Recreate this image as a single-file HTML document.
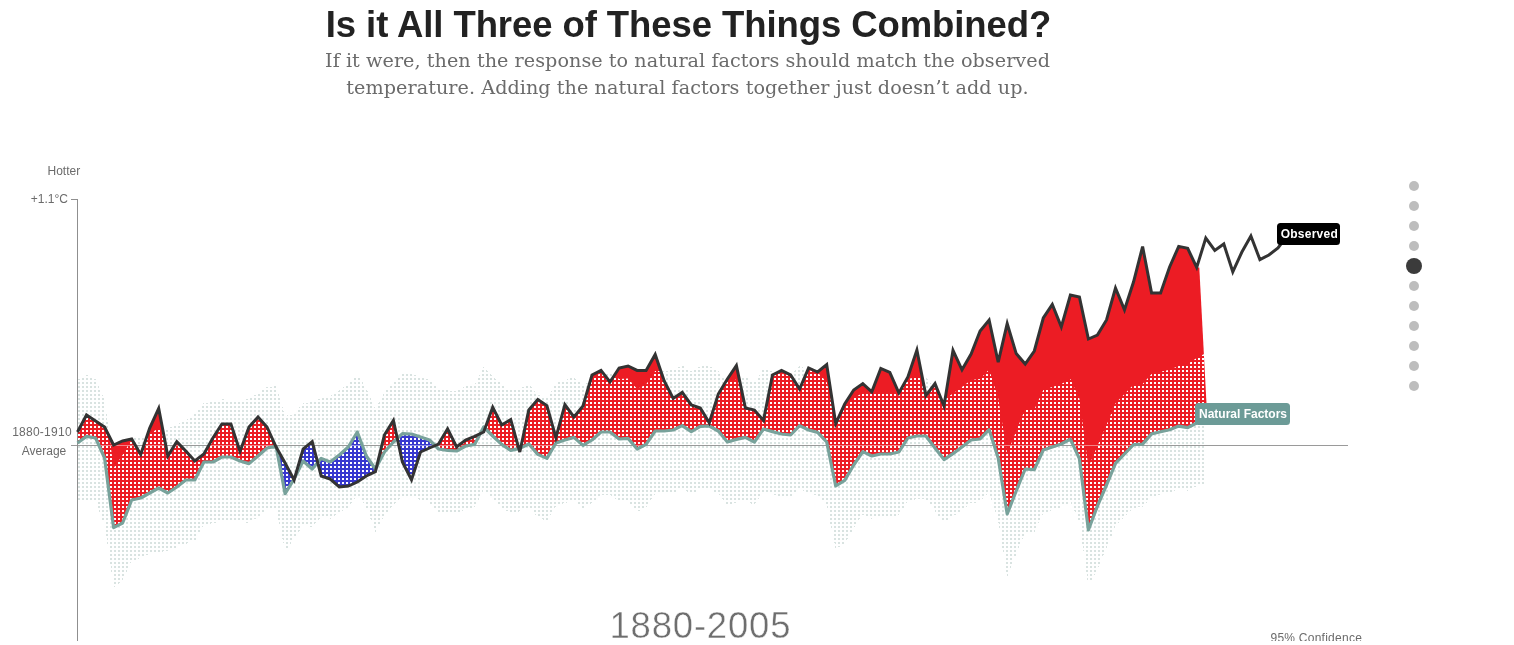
<!DOCTYPE html>
<html lang="en">
<head>
<meta charset="utf-8">
<title>Is it All Three of These Things Combined?</title>
<style>
html,body{margin:0;padding:0;background:#fff;}
body{width:1514px;height:645px;overflow:hidden;position:relative;font-family:"Liberation Sans",sans-serif;}
#head{position:absolute;left:0;top:0;width:1377px;text-align:center;}
h1{margin:0;position:absolute;left:0;width:1377px;top:3.5px;font-size:36.5px;line-height:42px;font-weight:bold;color:#222;letter-spacing:-0.08px;white-space:nowrap;}
p.sub{margin:0;position:absolute;left:0;width:1375px;top:46.8px;font-family:"DejaVu Serif","Liberation Serif",serif;font-size:19.2px;line-height:27.6px;color:#6b6b6b;letter-spacing:0.045px;white-space:nowrap;}
#chartwrap{position:absolute;left:0;top:0;width:1514px;height:641px;overflow:hidden;}
svg{display:block;}
svg text{font-family:"Liberation Sans",sans-serif;}
.ax{font-size:12px;fill:#6b6b6b;}
.lbl{font-size:12px;font-weight:bold;fill:#fff;}
</style>
</head>
<body>
<div id="chartwrap">
<svg width="1514" height="645" viewBox="0 0 1514 645">
<defs>
<pattern id="tdots" patternUnits="userSpaceOnUse" x="0" y="0" width="4" height="4"><rect x="2" y="2" width="2" height="2" fill="#d9e3e1"/></pattern>
<pattern id="wdots" patternUnits="userSpaceOnUse" x="0" y="0" width="4" height="4"><rect x="2" y="2" width="2" height="2" fill="#fff"/></pattern>
<clipPath id="cBelowObs"><polygon points="77.5,432.0 86.5,415.0 95.6,421.0 104.6,427.0 113.6,445.0 122.6,441.0 131.7,439.0 140.7,454.4 149.7,428.0 158.7,408.4 167.8,456.0 176.8,441.6 185.8,451.0 194.8,461.0 203.9,454.0 212.9,438.0 221.9,424.0 230.9,424.0 240.0,451.4 249.0,427.0 258.0,417.0 267.0,427.0 276.1,447.0 285.1,463.0 294.1,480.0 303.1,449.0 312.2,441.6 321.2,476.0 330.2,479.0 339.3,487.0 348.3,486.0 357.3,482.0 366.3,476.0 375.4,471.6 384.4,435.0 393.4,420.4 402.4,462.0 411.5,479.8 420.5,452.0 429.5,448.0 438.5,444.0 447.6,428.8 456.6,447.0 465.6,440.0 474.6,436.4 483.7,432.0 492.7,407.2 501.7,425.0 510.7,419.6 519.8,452.0 528.8,410.0 537.8,399.4 546.9,405.6 555.9,437.6 564.9,404.6 573.9,417.0 583.0,406.0 592.0,375.0 601.0,370.4 610.0,382.0 619.1,368.0 628.1,366.0 637.1,370.4 646.1,370.4 655.2,354.4 664.2,381.0 673.2,398.4 682.2,392.4 691.3,405.0 700.3,408.0 709.3,422.8 718.3,394.0 727.4,379.0 736.4,365.6 745.4,408.0 754.4,410.0 763.5,420.4 772.5,375.0 781.5,370.4 790.6,375.0 799.6,389.0 808.6,368.0 817.6,372.0 826.7,364.6 835.7,423.6 844.7,404.0 853.7,390.0 862.8,383.6 871.8,391.8 880.8,368.4 889.8,372.4 898.9,393.0 907.9,377.0 916.9,350.0 925.9,395.6 935.0,383.6 944.0,406.0 953.0,350.4 962.0,369.8 971.1,354.0 980.1,331.0 989.1,320.0 998.2,362.2 1007.2,323.6 1016.2,353.6 1025.2,364.0 1034.3,351.0 1043.3,318.0 1052.3,304.4 1061.3,326.8 1070.4,295.0 1079.4,297.0 1088.4,339.0 1097.4,335.0 1106.5,320.0 1115.5,288.0 1124.5,309.8 1133.5,282.0 1142.6,246.6 1151.6,293.0 1160.6,293.0 1169.6,267.0 1178.7,246.4 1187.7,248.4 1196.7,267.4 1215.0,267.4 1215.0,700.0 77.5,700.0"/></clipPath>
<clipPath id="cAboveObs"><polygon points="77.5,432.0 86.5,415.0 95.6,421.0 104.6,427.0 113.6,445.0 122.6,441.0 131.7,439.0 140.7,454.4 149.7,428.0 158.7,408.4 167.8,456.0 176.8,441.6 185.8,451.0 194.8,461.0 203.9,454.0 212.9,438.0 221.9,424.0 230.9,424.0 240.0,451.4 249.0,427.0 258.0,417.0 267.0,427.0 276.1,447.0 285.1,463.0 294.1,480.0 303.1,449.0 312.2,441.6 321.2,476.0 330.2,479.0 339.3,487.0 348.3,486.0 357.3,482.0 366.3,476.0 375.4,471.6 384.4,435.0 393.4,420.4 402.4,462.0 411.5,479.8 420.5,452.0 429.5,448.0 438.5,444.0 447.6,428.8 456.6,447.0 465.6,440.0 474.6,436.4 483.7,432.0 492.7,407.2 501.7,425.0 510.7,419.6 519.8,452.0 528.8,410.0 537.8,399.4 546.9,405.6 555.9,437.6 564.9,404.6 573.9,417.0 583.0,406.0 592.0,375.0 601.0,370.4 610.0,382.0 619.1,368.0 628.1,366.0 637.1,370.4 646.1,370.4 655.2,354.4 664.2,381.0 673.2,398.4 682.2,392.4 691.3,405.0 700.3,408.0 709.3,422.8 718.3,394.0 727.4,379.0 736.4,365.6 745.4,408.0 754.4,410.0 763.5,420.4 772.5,375.0 781.5,370.4 790.6,375.0 799.6,389.0 808.6,368.0 817.6,372.0 826.7,364.6 835.7,423.6 844.7,404.0 853.7,390.0 862.8,383.6 871.8,391.8 880.8,368.4 889.8,372.4 898.9,393.0 907.9,377.0 916.9,350.0 925.9,395.6 935.0,383.6 944.0,406.0 953.0,350.4 962.0,369.8 971.1,354.0 980.1,331.0 989.1,320.0 998.2,362.2 1007.2,323.6 1016.2,353.6 1025.2,364.0 1034.3,351.0 1043.3,318.0 1052.3,304.4 1061.3,326.8 1070.4,295.0 1079.4,297.0 1088.4,339.0 1097.4,335.0 1106.5,320.0 1115.5,288.0 1124.5,309.8 1133.5,282.0 1142.6,246.6 1151.6,293.0 1160.6,293.0 1169.6,267.0 1178.7,246.4 1187.7,248.4 1196.7,267.4 1215.0,267.4 1215.0,-50.0 77.5,-50.0"/></clipPath>
<clipPath id="cAboveNat"><polygon points="77.5,443.0 86.5,436.4 95.6,438.0 104.6,458.0 113.6,527.6 122.6,523.0 131.7,500.0 140.7,498.0 149.7,493.0 158.7,488.0 167.8,493.0 176.8,487.0 185.8,480.0 194.8,480.0 203.9,462.0 212.9,462.0 221.9,457.0 230.9,457.0 240.0,461.0 249.0,463.6 258.0,456.0 267.0,448.0 276.1,446.4 285.1,493.6 294.1,479.0 303.1,461.0 312.2,469.0 321.2,458.4 330.2,462.0 339.3,455.0 348.3,447.0 357.3,432.0 366.3,456.0 375.4,469.0 384.4,452.0 393.4,442.0 402.4,433.6 411.5,434.0 420.5,437.0 429.5,440.0 438.5,449.0 447.6,450.4 456.6,451.0 465.6,446.0 474.6,444.4 483.7,427.0 492.7,436.0 501.7,444.4 510.7,450.4 519.8,448.4 528.8,444.0 537.8,454.4 546.9,458.4 555.9,443.0 564.9,440.0 573.9,437.4 583.0,445.4 592.0,440.0 601.0,432.0 610.0,432.0 619.1,439.0 628.1,438.4 637.1,449.0 646.1,444.4 655.2,431.0 664.2,431.0 673.2,430.0 682.2,425.6 691.3,431.6 700.3,426.4 709.3,426.0 718.3,431.0 727.4,442.0 736.4,439.4 745.4,437.4 754.4,442.0 763.5,429.0 772.5,431.6 781.5,434.0 790.6,435.0 799.6,425.6 808.6,430.0 817.6,432.4 826.7,442.0 835.7,486.0 844.7,480.4 853.7,465.0 862.8,451.6 871.8,456.0 880.8,454.0 889.8,454.0 898.9,452.0 907.9,438.0 916.9,436.0 925.9,436.0 935.0,448.0 944.0,459.6 953.0,453.6 962.0,447.0 971.1,440.0 980.1,439.0 989.1,429.6 998.2,458.0 1007.2,514.0 1016.2,491.0 1025.2,469.0 1034.3,469.6 1043.3,450.0 1052.3,447.0 1061.3,444.0 1070.4,439.1 1079.4,458.7 1088.4,530.0 1097.4,506.1 1106.5,485.0 1115.5,463.3 1124.5,454.0 1133.5,444.7 1142.6,444.1 1151.6,433.9 1160.6,431.7 1169.6,429.8 1178.7,426.1 1187.7,427.7 1196.7,423.0 1215.0,421.0 1215.0,-50.0 77.5,-50.0"/></clipPath>
<clipPath id="cBelowNat"><polygon points="77.5,443.0 86.5,436.4 95.6,438.0 104.6,458.0 113.6,527.6 122.6,523.0 131.7,500.0 140.7,498.0 149.7,493.0 158.7,488.0 167.8,493.0 176.8,487.0 185.8,480.0 194.8,480.0 203.9,462.0 212.9,462.0 221.9,457.0 230.9,457.0 240.0,461.0 249.0,463.6 258.0,456.0 267.0,448.0 276.1,446.4 285.1,493.6 294.1,479.0 303.1,461.0 312.2,469.0 321.2,458.4 330.2,462.0 339.3,455.0 348.3,447.0 357.3,432.0 366.3,456.0 375.4,469.0 384.4,452.0 393.4,442.0 402.4,433.6 411.5,434.0 420.5,437.0 429.5,440.0 438.5,449.0 447.6,450.4 456.6,451.0 465.6,446.0 474.6,444.4 483.7,427.0 492.7,436.0 501.7,444.4 510.7,450.4 519.8,448.4 528.8,444.0 537.8,454.4 546.9,458.4 555.9,443.0 564.9,440.0 573.9,437.4 583.0,445.4 592.0,440.0 601.0,432.0 610.0,432.0 619.1,439.0 628.1,438.4 637.1,449.0 646.1,444.4 655.2,431.0 664.2,431.0 673.2,430.0 682.2,425.6 691.3,431.6 700.3,426.4 709.3,426.0 718.3,431.0 727.4,442.0 736.4,439.4 745.4,437.4 754.4,442.0 763.5,429.0 772.5,431.6 781.5,434.0 790.6,435.0 799.6,425.6 808.6,430.0 817.6,432.4 826.7,442.0 835.7,486.0 844.7,480.4 853.7,465.0 862.8,451.6 871.8,456.0 880.8,454.0 889.8,454.0 898.9,452.0 907.9,438.0 916.9,436.0 925.9,436.0 935.0,448.0 944.0,459.6 953.0,453.6 962.0,447.0 971.1,440.0 980.1,439.0 989.1,429.6 998.2,458.0 1007.2,514.0 1016.2,491.0 1025.2,469.0 1034.3,469.6 1043.3,450.0 1052.3,447.0 1061.3,444.0 1070.4,439.1 1079.4,458.7 1088.4,530.0 1097.4,506.1 1106.5,485.0 1115.5,463.3 1124.5,454.0 1133.5,444.7 1142.6,444.1 1151.6,433.9 1160.6,431.7 1169.6,429.8 1178.7,426.1 1187.7,427.7 1196.7,423.0 1215.0,421.0 1215.0,700.0 77.5,700.0"/></clipPath>
<clipPath id="cBand"><polygon points="77.5,380.0 86.5,375.0 95.6,379.0 104.6,400.0 113.6,468.0 122.6,455.0 131.7,439.0 140.7,437.0 149.7,434.0 158.7,428.0 167.8,428.0 176.8,425.0 185.8,420.0 194.8,414.0 203.9,403.0 212.9,402.0 221.9,399.0 230.9,401.0 240.0,400.0 249.0,399.0 258.0,393.0 267.0,387.0 276.1,386.0 285.1,416.0 294.1,414.0 303.1,403.0 312.2,402.0 321.2,398.0 330.2,396.0 339.3,390.0 348.3,384.0 357.3,374.0 366.3,388.0 375.4,409.0 384.4,392.0 393.4,382.0 402.4,373.6 411.5,374.0 420.5,377.0 429.5,380.0 438.5,389.0 447.6,390.4 456.6,391.0 465.6,386.0 474.6,384.4 483.7,367.0 492.7,376.0 501.7,384.4 510.7,390.4 519.8,388.4 528.8,384.0 537.8,394.4 546.9,398.4 555.9,383.0 564.9,380.0 573.9,377.4 583.0,385.4 592.0,380.0 601.0,372.0 610.0,372.0 619.1,379.0 628.1,378.4 637.1,389.0 646.1,384.4 655.2,371.0 664.2,371.0 673.2,370.0 682.2,365.6 691.3,371.6 700.3,366.4 709.3,366.0 718.3,371.0 727.4,382.0 736.4,379.4 745.4,377.4 754.4,382.0 763.5,369.0 772.5,371.6 781.5,374.0 790.6,375.0 799.6,365.6 808.6,370.0 817.6,372.4 826.7,382.0 835.7,422.0 844.7,407.0 853.7,398.0 862.8,393.0 871.8,394.0 880.8,394.0 889.8,394.0 898.9,393.0 907.9,379.0 916.9,377.0 925.9,377.0 935.0,388.0 944.0,399.6 953.0,393.6 962.0,387.0 971.1,380.0 980.1,379.0 989.1,369.6 998.2,398.0 1007.2,454.0 1016.2,431.0 1025.2,409.0 1034.3,409.6 1043.3,390.0 1052.3,387.0 1061.3,384.0 1070.4,379.1 1079.4,398.7 1088.4,466.9 1097.4,446.1 1106.5,425.0 1115.5,403.3 1124.5,394.0 1133.5,384.7 1142.6,384.1 1151.6,373.9 1160.6,371.7 1169.6,369.8 1178.7,366.1 1187.7,364.0 1196.7,358.0 1204.5,353.7 1204.5,483.4 1196.7,486.0 1187.7,490.7 1178.7,489.1 1169.6,492.8 1160.6,494.7 1151.6,496.9 1142.6,507.1 1133.5,507.7 1124.5,517.0 1115.5,526.3 1106.5,548.0 1097.4,569.1 1088.4,586.0 1079.4,521.7 1070.4,502.1 1061.3,507.0 1052.3,510.0 1043.3,513.0 1034.3,532.6 1025.2,532.0 1016.2,554.0 1007.2,577.0 998.2,521.0 989.1,492.6 980.1,502.0 971.1,503.0 962.0,510.0 953.0,516.6 944.0,522.6 935.0,511.0 925.9,499.0 916.9,499.0 907.9,501.0 898.9,515.0 889.8,517.0 880.8,517.0 871.8,519.0 862.8,514.6 853.7,528.0 844.7,543.4 835.7,549.0 826.7,505.0 817.6,495.4 808.6,493.0 799.6,488.6 790.6,498.0 781.5,497.0 772.5,494.6 763.5,492.0 754.4,505.0 745.4,500.4 736.4,502.4 727.4,505.0 718.3,494.0 709.3,489.0 700.3,489.4 691.3,494.6 682.2,488.6 673.2,493.0 664.2,494.0 655.2,494.0 646.1,507.4 637.1,512.0 628.1,501.4 619.1,502.0 610.0,495.0 601.0,495.0 592.0,503.0 583.0,508.4 573.9,500.4 564.9,503.0 555.9,506.0 546.9,521.4 537.8,517.4 528.8,507.0 519.8,511.4 510.7,513.4 501.7,507.4 492.7,499.0 483.7,490.0 474.6,507.4 465.6,509.0 456.6,514.0 447.6,513.4 438.5,512.0 429.5,503.0 420.5,500.0 411.5,497.0 402.4,496.6 393.4,505.0 384.4,515.0 375.4,532.0 366.3,507.0 357.3,495.0 348.3,508.0 339.3,512.0 330.2,519.0 321.2,517.0 312.2,527.0 303.1,525.0 294.1,539.0 285.1,551.0 276.1,508.0 267.0,509.0 258.0,517.0 249.0,523.0 240.0,522.0 230.9,522.0 221.9,522.0 212.9,523.0 203.9,525.0 194.8,541.0 185.8,544.0 176.8,547.0 167.8,551.0 158.7,552.0 149.7,554.0 140.7,558.0 131.7,561.0 122.6,580.0 113.6,588.0 104.6,525.0 95.6,502.0 86.5,500.0 77.5,500.0"/></clipPath>
<clipPath id="cOver"><rect x="275.5" y="400" width="43" height="120"/></clipPath>
<clipPath id="cRight"><polygon points="0,0 1185.1,0 1219.3,645 0,645"/></clipPath>
</defs>
<!-- zero line -->
<rect x="71" y="445" width="1277" height="1" fill="#9a9a9a"/>
<!-- confidence band -->
<polygon points="77.5,380.0 86.5,375.0 95.6,379.0 104.6,400.0 113.6,468.0 122.6,455.0 131.7,439.0 140.7,437.0 149.7,434.0 158.7,428.0 167.8,428.0 176.8,425.0 185.8,420.0 194.8,414.0 203.9,403.0 212.9,402.0 221.9,399.0 230.9,401.0 240.0,400.0 249.0,399.0 258.0,393.0 267.0,387.0 276.1,386.0 285.1,416.0 294.1,414.0 303.1,403.0 312.2,402.0 321.2,398.0 330.2,396.0 339.3,390.0 348.3,384.0 357.3,374.0 366.3,388.0 375.4,409.0 384.4,392.0 393.4,382.0 402.4,373.6 411.5,374.0 420.5,377.0 429.5,380.0 438.5,389.0 447.6,390.4 456.6,391.0 465.6,386.0 474.6,384.4 483.7,367.0 492.7,376.0 501.7,384.4 510.7,390.4 519.8,388.4 528.8,384.0 537.8,394.4 546.9,398.4 555.9,383.0 564.9,380.0 573.9,377.4 583.0,385.4 592.0,380.0 601.0,372.0 610.0,372.0 619.1,379.0 628.1,378.4 637.1,389.0 646.1,384.4 655.2,371.0 664.2,371.0 673.2,370.0 682.2,365.6 691.3,371.6 700.3,366.4 709.3,366.0 718.3,371.0 727.4,382.0 736.4,379.4 745.4,377.4 754.4,382.0 763.5,369.0 772.5,371.6 781.5,374.0 790.6,375.0 799.6,365.6 808.6,370.0 817.6,372.4 826.7,382.0 835.7,422.0 844.7,407.0 853.7,398.0 862.8,393.0 871.8,394.0 880.8,394.0 889.8,394.0 898.9,393.0 907.9,379.0 916.9,377.0 925.9,377.0 935.0,388.0 944.0,399.6 953.0,393.6 962.0,387.0 971.1,380.0 980.1,379.0 989.1,369.6 998.2,398.0 1007.2,454.0 1016.2,431.0 1025.2,409.0 1034.3,409.6 1043.3,390.0 1052.3,387.0 1061.3,384.0 1070.4,379.1 1079.4,398.7 1088.4,466.9 1097.4,446.1 1106.5,425.0 1115.5,403.3 1124.5,394.0 1133.5,384.7 1142.6,384.1 1151.6,373.9 1160.6,371.7 1169.6,369.8 1178.7,366.1 1187.7,364.0 1196.7,358.0 1204.5,353.7 1204.5,483.4 1196.7,486.0 1187.7,490.7 1178.7,489.1 1169.6,492.8 1160.6,494.7 1151.6,496.9 1142.6,507.1 1133.5,507.7 1124.5,517.0 1115.5,526.3 1106.5,548.0 1097.4,569.1 1088.4,586.0 1079.4,521.7 1070.4,502.1 1061.3,507.0 1052.3,510.0 1043.3,513.0 1034.3,532.6 1025.2,532.0 1016.2,554.0 1007.2,577.0 998.2,521.0 989.1,492.6 980.1,502.0 971.1,503.0 962.0,510.0 953.0,516.6 944.0,522.6 935.0,511.0 925.9,499.0 916.9,499.0 907.9,501.0 898.9,515.0 889.8,517.0 880.8,517.0 871.8,519.0 862.8,514.6 853.7,528.0 844.7,543.4 835.7,549.0 826.7,505.0 817.6,495.4 808.6,493.0 799.6,488.6 790.6,498.0 781.5,497.0 772.5,494.6 763.5,492.0 754.4,505.0 745.4,500.4 736.4,502.4 727.4,505.0 718.3,494.0 709.3,489.0 700.3,489.4 691.3,494.6 682.2,488.6 673.2,493.0 664.2,494.0 655.2,494.0 646.1,507.4 637.1,512.0 628.1,501.4 619.1,502.0 610.0,495.0 601.0,495.0 592.0,503.0 583.0,508.4 573.9,500.4 564.9,503.0 555.9,506.0 546.9,521.4 537.8,517.4 528.8,507.0 519.8,511.4 510.7,513.4 501.7,507.4 492.7,499.0 483.7,490.0 474.6,507.4 465.6,509.0 456.6,514.0 447.6,513.4 438.5,512.0 429.5,503.0 420.5,500.0 411.5,497.0 402.4,496.6 393.4,505.0 384.4,515.0 375.4,532.0 366.3,507.0 357.3,495.0 348.3,508.0 339.3,512.0 330.2,519.0 321.2,517.0 312.2,527.0 303.1,525.0 294.1,539.0 285.1,551.0 276.1,508.0 267.0,509.0 258.0,517.0 249.0,523.0 240.0,522.0 230.9,522.0 221.9,522.0 212.9,523.0 203.9,525.0 194.8,541.0 185.8,544.0 176.8,547.0 167.8,551.0 158.7,552.0 149.7,554.0 140.7,558.0 131.7,561.0 122.6,580.0 113.6,588.0 104.6,525.0 95.6,502.0 86.5,500.0 77.5,500.0" fill="url(#tdots)" shape-rendering="crispEdges"/>
<!-- fills -->
<g clip-path="url(#cRight)">
<g clip-path="url(#cBelowObs)"><polygon points="77.5,443.0 86.5,436.4 95.6,438.0 104.6,458.0 113.6,527.6 122.6,523.0 131.7,500.0 140.7,498.0 149.7,493.0 158.7,488.0 167.8,493.0 176.8,487.0 185.8,480.0 194.8,480.0 203.9,462.0 212.9,462.0 221.9,457.0 230.9,457.0 240.0,461.0 249.0,463.6 258.0,456.0 267.0,448.0 276.1,446.4 285.1,493.6 294.1,479.0 303.1,461.0 312.2,469.0 321.2,458.4 330.2,462.0 339.3,455.0 348.3,447.0 357.3,432.0 366.3,456.0 375.4,469.0 384.4,452.0 393.4,442.0 402.4,433.6 411.5,434.0 420.5,437.0 429.5,440.0 438.5,449.0 447.6,450.4 456.6,451.0 465.6,446.0 474.6,444.4 483.7,427.0 492.7,436.0 501.7,444.4 510.7,450.4 519.8,448.4 528.8,444.0 537.8,454.4 546.9,458.4 555.9,443.0 564.9,440.0 573.9,437.4 583.0,445.4 592.0,440.0 601.0,432.0 610.0,432.0 619.1,439.0 628.1,438.4 637.1,449.0 646.1,444.4 655.2,431.0 664.2,431.0 673.2,430.0 682.2,425.6 691.3,431.6 700.3,426.4 709.3,426.0 718.3,431.0 727.4,442.0 736.4,439.4 745.4,437.4 754.4,442.0 763.5,429.0 772.5,431.6 781.5,434.0 790.6,435.0 799.6,425.6 808.6,430.0 817.6,432.4 826.7,442.0 835.7,486.0 844.7,480.4 853.7,465.0 862.8,451.6 871.8,456.0 880.8,454.0 889.8,454.0 898.9,452.0 907.9,438.0 916.9,436.0 925.9,436.0 935.0,448.0 944.0,459.6 953.0,453.6 962.0,447.0 971.1,440.0 980.1,439.0 989.1,429.6 998.2,458.0 1007.2,514.0 1016.2,491.0 1025.2,469.0 1034.3,469.6 1043.3,450.0 1052.3,447.0 1061.3,444.0 1070.4,439.1 1079.4,458.7 1088.4,530.0 1097.4,506.1 1106.5,485.0 1115.5,463.3 1124.5,454.0 1133.5,444.7 1142.6,444.1 1151.6,433.9 1160.6,431.7 1169.6,429.8 1178.7,426.1 1187.7,427.7 1196.7,423.0 1215.0,421.0 1215.0,-50.0 77.5,-50.0" fill="#ec1c24"/></g>
<g clip-path="url(#cAboveObs)"><polygon points="77.5,443.0 86.5,436.4 95.6,438.0 104.6,458.0 113.6,527.6 122.6,523.0 131.7,500.0 140.7,498.0 149.7,493.0 158.7,488.0 167.8,493.0 176.8,487.0 185.8,480.0 194.8,480.0 203.9,462.0 212.9,462.0 221.9,457.0 230.9,457.0 240.0,461.0 249.0,463.6 258.0,456.0 267.0,448.0 276.1,446.4 285.1,493.6 294.1,479.0 303.1,461.0 312.2,469.0 321.2,458.4 330.2,462.0 339.3,455.0 348.3,447.0 357.3,432.0 366.3,456.0 375.4,469.0 384.4,452.0 393.4,442.0 402.4,433.6 411.5,434.0 420.5,437.0 429.5,440.0 438.5,449.0 447.6,450.4 456.6,451.0 465.6,446.0 474.6,444.4 483.7,427.0 492.7,436.0 501.7,444.4 510.7,450.4 519.8,448.4 528.8,444.0 537.8,454.4 546.9,458.4 555.9,443.0 564.9,440.0 573.9,437.4 583.0,445.4 592.0,440.0 601.0,432.0 610.0,432.0 619.1,439.0 628.1,438.4 637.1,449.0 646.1,444.4 655.2,431.0 664.2,431.0 673.2,430.0 682.2,425.6 691.3,431.6 700.3,426.4 709.3,426.0 718.3,431.0 727.4,442.0 736.4,439.4 745.4,437.4 754.4,442.0 763.5,429.0 772.5,431.6 781.5,434.0 790.6,435.0 799.6,425.6 808.6,430.0 817.6,432.4 826.7,442.0 835.7,486.0 844.7,480.4 853.7,465.0 862.8,451.6 871.8,456.0 880.8,454.0 889.8,454.0 898.9,452.0 907.9,438.0 916.9,436.0 925.9,436.0 935.0,448.0 944.0,459.6 953.0,453.6 962.0,447.0 971.1,440.0 980.1,439.0 989.1,429.6 998.2,458.0 1007.2,514.0 1016.2,491.0 1025.2,469.0 1034.3,469.6 1043.3,450.0 1052.3,447.0 1061.3,444.0 1070.4,439.1 1079.4,458.7 1088.4,530.0 1097.4,506.1 1106.5,485.0 1115.5,463.3 1124.5,454.0 1133.5,444.7 1142.6,444.1 1151.6,433.9 1160.6,431.7 1169.6,429.8 1178.7,426.1 1187.7,427.7 1196.7,423.0 1215.0,421.0 1215.0,700.0 77.5,700.0" fill="#3838cf"/></g>
<g clip-path="url(#cOver)"><g clip-path="url(#cBelowObs)"><polygon points="77.5,443.0 86.5,436.4 95.6,438.0 104.6,458.0 113.6,527.6 122.6,523.0 131.7,500.0 140.7,498.0 149.7,493.0 158.7,488.0 167.8,493.0 176.8,487.0 185.8,480.0 194.8,480.0 203.9,462.0 212.9,462.0 221.9,457.0 230.9,457.0 240.0,461.0 249.0,463.6 258.0,456.0 267.0,448.0 276.1,446.4 285.1,493.6 294.1,479.0 303.1,461.0 312.2,469.0 321.2,458.4 330.2,462.0 339.3,455.0 348.3,447.0 357.3,432.0 366.3,456.0 375.4,469.0 384.4,452.0 393.4,442.0 402.4,433.6 411.5,434.0 420.5,437.0 429.5,440.0 438.5,449.0 447.6,450.4 456.6,451.0 465.6,446.0 474.6,444.4 483.7,427.0 492.7,436.0 501.7,444.4 510.7,450.4 519.8,448.4 528.8,444.0 537.8,454.4 546.9,458.4 555.9,443.0 564.9,440.0 573.9,437.4 583.0,445.4 592.0,440.0 601.0,432.0 610.0,432.0 619.1,439.0 628.1,438.4 637.1,449.0 646.1,444.4 655.2,431.0 664.2,431.0 673.2,430.0 682.2,425.6 691.3,431.6 700.3,426.4 709.3,426.0 718.3,431.0 727.4,442.0 736.4,439.4 745.4,437.4 754.4,442.0 763.5,429.0 772.5,431.6 781.5,434.0 790.6,435.0 799.6,425.6 808.6,430.0 817.6,432.4 826.7,442.0 835.7,486.0 844.7,480.4 853.7,465.0 862.8,451.6 871.8,456.0 880.8,454.0 889.8,454.0 898.9,452.0 907.9,438.0 916.9,436.0 925.9,436.0 935.0,448.0 944.0,459.6 953.0,453.6 962.0,447.0 971.1,440.0 980.1,439.0 989.1,429.6 998.2,458.0 1007.2,514.0 1016.2,491.0 1025.2,469.0 1034.3,469.6 1043.3,450.0 1052.3,447.0 1061.3,444.0 1070.4,439.1 1079.4,458.7 1088.4,530.0 1097.4,506.1 1106.5,485.0 1115.5,463.3 1124.5,454.0 1133.5,444.7 1142.6,444.1 1151.6,433.9 1160.6,431.7 1169.6,429.8 1178.7,426.1 1187.7,427.7 1196.7,423.0 1215.0,421.0 1215.0,-50.0 77.5,-50.0" fill="#3838cf"/></g></g>
<g clip-path="url(#cBand)">
<g clip-path="url(#cBelowObs)"><polygon points="77.5,443.0 86.5,436.4 95.6,438.0 104.6,458.0 113.6,527.6 122.6,523.0 131.7,500.0 140.7,498.0 149.7,493.0 158.7,488.0 167.8,493.0 176.8,487.0 185.8,480.0 194.8,480.0 203.9,462.0 212.9,462.0 221.9,457.0 230.9,457.0 240.0,461.0 249.0,463.6 258.0,456.0 267.0,448.0 276.1,446.4 285.1,493.6 294.1,479.0 303.1,461.0 312.2,469.0 321.2,458.4 330.2,462.0 339.3,455.0 348.3,447.0 357.3,432.0 366.3,456.0 375.4,469.0 384.4,452.0 393.4,442.0 402.4,433.6 411.5,434.0 420.5,437.0 429.5,440.0 438.5,449.0 447.6,450.4 456.6,451.0 465.6,446.0 474.6,444.4 483.7,427.0 492.7,436.0 501.7,444.4 510.7,450.4 519.8,448.4 528.8,444.0 537.8,454.4 546.9,458.4 555.9,443.0 564.9,440.0 573.9,437.4 583.0,445.4 592.0,440.0 601.0,432.0 610.0,432.0 619.1,439.0 628.1,438.4 637.1,449.0 646.1,444.4 655.2,431.0 664.2,431.0 673.2,430.0 682.2,425.6 691.3,431.6 700.3,426.4 709.3,426.0 718.3,431.0 727.4,442.0 736.4,439.4 745.4,437.4 754.4,442.0 763.5,429.0 772.5,431.6 781.5,434.0 790.6,435.0 799.6,425.6 808.6,430.0 817.6,432.4 826.7,442.0 835.7,486.0 844.7,480.4 853.7,465.0 862.8,451.6 871.8,456.0 880.8,454.0 889.8,454.0 898.9,452.0 907.9,438.0 916.9,436.0 925.9,436.0 935.0,448.0 944.0,459.6 953.0,453.6 962.0,447.0 971.1,440.0 980.1,439.0 989.1,429.6 998.2,458.0 1007.2,514.0 1016.2,491.0 1025.2,469.0 1034.3,469.6 1043.3,450.0 1052.3,447.0 1061.3,444.0 1070.4,439.1 1079.4,458.7 1088.4,530.0 1097.4,506.1 1106.5,485.0 1115.5,463.3 1124.5,454.0 1133.5,444.7 1142.6,444.1 1151.6,433.9 1160.6,431.7 1169.6,429.8 1178.7,426.1 1187.7,427.7 1196.7,423.0 1215.0,421.0 1215.0,-50.0 77.5,-50.0" fill="url(#wdots)"/></g>
<g clip-path="url(#cAboveObs)"><polygon points="77.5,443.0 86.5,436.4 95.6,438.0 104.6,458.0 113.6,527.6 122.6,523.0 131.7,500.0 140.7,498.0 149.7,493.0 158.7,488.0 167.8,493.0 176.8,487.0 185.8,480.0 194.8,480.0 203.9,462.0 212.9,462.0 221.9,457.0 230.9,457.0 240.0,461.0 249.0,463.6 258.0,456.0 267.0,448.0 276.1,446.4 285.1,493.6 294.1,479.0 303.1,461.0 312.2,469.0 321.2,458.4 330.2,462.0 339.3,455.0 348.3,447.0 357.3,432.0 366.3,456.0 375.4,469.0 384.4,452.0 393.4,442.0 402.4,433.6 411.5,434.0 420.5,437.0 429.5,440.0 438.5,449.0 447.6,450.4 456.6,451.0 465.6,446.0 474.6,444.4 483.7,427.0 492.7,436.0 501.7,444.4 510.7,450.4 519.8,448.4 528.8,444.0 537.8,454.4 546.9,458.4 555.9,443.0 564.9,440.0 573.9,437.4 583.0,445.4 592.0,440.0 601.0,432.0 610.0,432.0 619.1,439.0 628.1,438.4 637.1,449.0 646.1,444.4 655.2,431.0 664.2,431.0 673.2,430.0 682.2,425.6 691.3,431.6 700.3,426.4 709.3,426.0 718.3,431.0 727.4,442.0 736.4,439.4 745.4,437.4 754.4,442.0 763.5,429.0 772.5,431.6 781.5,434.0 790.6,435.0 799.6,425.6 808.6,430.0 817.6,432.4 826.7,442.0 835.7,486.0 844.7,480.4 853.7,465.0 862.8,451.6 871.8,456.0 880.8,454.0 889.8,454.0 898.9,452.0 907.9,438.0 916.9,436.0 925.9,436.0 935.0,448.0 944.0,459.6 953.0,453.6 962.0,447.0 971.1,440.0 980.1,439.0 989.1,429.6 998.2,458.0 1007.2,514.0 1016.2,491.0 1025.2,469.0 1034.3,469.6 1043.3,450.0 1052.3,447.0 1061.3,444.0 1070.4,439.1 1079.4,458.7 1088.4,530.0 1097.4,506.1 1106.5,485.0 1115.5,463.3 1124.5,454.0 1133.5,444.7 1142.6,444.1 1151.6,433.9 1160.6,431.7 1169.6,429.8 1178.7,426.1 1187.7,427.7 1196.7,423.0 1215.0,421.0 1215.0,700.0 77.5,700.0" fill="url(#wdots)"/></g>
</g>
<g clip-path="url(#cBelowObs)"><g clip-path="url(#cAboveNat)"><rect x="77" y="445" width="1140" height="1" fill="#fff" fill-opacity="0.45"/></g></g>
<g clip-path="url(#cAboveObs)"><g clip-path="url(#cBelowNat)"><rect x="77" y="445" width="1140" height="1" fill="#fff" fill-opacity="0.45"/></g></g>
</g>
<!-- axis -->
<rect x="77" y="199" width="1" height="446" fill="#8f8f8f"/>
<rect x="71" y="199" width="7" height="1" fill="#8f8f8f"/>
<!-- lines -->
<polyline points="77.5,443.0 86.5,436.4 95.6,438.0 104.6,458.0 113.6,527.6 122.6,523.0 131.7,500.0 140.7,498.0 149.7,493.0 158.7,488.0 167.8,493.0 176.8,487.0 185.8,480.0 194.8,480.0 203.9,462.0 212.9,462.0 221.9,457.0 230.9,457.0 240.0,461.0 249.0,463.6 258.0,456.0 267.0,448.0 276.1,446.4 285.1,493.6 294.1,479.0 303.1,461.0 312.2,469.0 321.2,458.4 330.2,462.0 339.3,455.0 348.3,447.0 357.3,432.0 366.3,456.0 375.4,469.0 384.4,452.0 393.4,442.0 402.4,433.6 411.5,434.0 420.5,437.0 429.5,440.0 438.5,449.0 447.6,450.4 456.6,451.0 465.6,446.0 474.6,444.4 483.7,427.0 492.7,436.0 501.7,444.4 510.7,450.4 519.8,448.4 528.8,444.0 537.8,454.4 546.9,458.4 555.9,443.0 564.9,440.0 573.9,437.4 583.0,445.4 592.0,440.0 601.0,432.0 610.0,432.0 619.1,439.0 628.1,438.4 637.1,449.0 646.1,444.4 655.2,431.0 664.2,431.0 673.2,430.0 682.2,425.6 691.3,431.6 700.3,426.4 709.3,426.0 718.3,431.0 727.4,442.0 736.4,439.4 745.4,437.4 754.4,442.0 763.5,429.0 772.5,431.6 781.5,434.0 790.6,435.0 799.6,425.6 808.6,430.0 817.6,432.4 826.7,442.0 835.7,486.0 844.7,480.4 853.7,465.0 862.8,451.6 871.8,456.0 880.8,454.0 889.8,454.0 898.9,452.0 907.9,438.0 916.9,436.0 925.9,436.0 935.0,448.0 944.0,459.6 953.0,453.6 962.0,447.0 971.1,440.0 980.1,439.0 989.1,429.6 998.2,458.0 1007.2,514.0 1016.2,491.0 1025.2,469.0 1034.3,469.6 1043.3,450.0 1052.3,447.0 1061.3,444.0 1070.4,439.1 1079.4,458.7 1088.4,530.0 1097.4,506.1 1106.5,485.0 1115.5,463.3 1124.5,454.0 1133.5,444.7 1142.6,444.1 1151.6,433.9 1160.6,431.7 1169.6,429.8 1178.7,426.1 1187.7,427.7 1196.7,423.0 1197.5,422.5" fill="none" stroke="#78a29b" stroke-width="3.2" stroke-linejoin="round"/>
<polyline points="77.5,432.0 86.5,415.0 95.6,421.0 104.6,427.0 113.6,445.0 122.6,441.0 131.7,439.0 140.7,454.4 149.7,428.0 158.7,408.4 167.8,456.0 176.8,441.6 185.8,451.0 194.8,461.0 203.9,454.0 212.9,438.0 221.9,424.0 230.9,424.0 240.0,451.4 249.0,427.0 258.0,417.0 267.0,427.0 276.1,447.0 285.1,463.0 294.1,480.0 303.1,449.0 312.2,441.6 321.2,476.0 330.2,479.0 339.3,487.0 348.3,486.0 357.3,482.0 366.3,476.0 375.4,471.6 384.4,435.0 393.4,420.4 402.4,462.0 411.5,479.8 420.5,452.0 429.5,448.0 438.5,444.0 447.6,428.8 456.6,447.0 465.6,440.0 474.6,436.4 483.7,432.0 492.7,407.2 501.7,425.0 510.7,419.6 519.8,452.0 528.8,410.0 537.8,399.4 546.9,405.6 555.9,437.6 564.9,404.6 573.9,417.0 583.0,406.0 592.0,375.0 601.0,370.4 610.0,382.0 619.1,368.0 628.1,366.0 637.1,370.4 646.1,370.4 655.2,354.4 664.2,381.0 673.2,398.4 682.2,392.4 691.3,405.0 700.3,408.0 709.3,422.8 718.3,394.0 727.4,379.0 736.4,365.6 745.4,408.0 754.4,410.0 763.5,420.4 772.5,375.0 781.5,370.4 790.6,375.0 799.6,389.0 808.6,368.0 817.6,372.0 826.7,364.6 835.7,423.6 844.7,404.0 853.7,390.0 862.8,383.6 871.8,391.8 880.8,368.4 889.8,372.4 898.9,393.0 907.9,377.0 916.9,350.0 925.9,395.6 935.0,383.6 944.0,406.0 953.0,350.4 962.0,369.8 971.1,354.0 980.1,331.0 989.1,320.0 998.2,362.2 1007.2,323.6 1016.2,353.6 1025.2,364.0 1034.3,351.0 1043.3,318.0 1052.3,304.4 1061.3,326.8 1070.4,295.0 1079.4,297.0 1088.4,339.0 1097.4,335.0 1106.5,320.0 1115.5,288.0 1124.5,309.8 1133.5,282.0 1142.6,246.6 1151.6,293.0 1160.6,293.0 1169.6,267.0 1178.7,246.4 1187.7,248.4 1196.7,267.4 1205.8,238.0 1214.8,250.4 1223.8,244.0 1232.8,271.8 1241.9,252.0 1250.9,236.0 1259.9,259.6 1268.9,255.0 1278.0,248.0 1287.0,236.0" fill="none" stroke="#333" stroke-width="3" stroke-linejoin="miter" stroke-miterlimit="4"/>
<!-- labels -->
<rect x="1277" y="223" width="63" height="22" rx="3.5" fill="#000"/>
<text class="lbl" x="1280.7" y="238" letter-spacing="0.25">Observed</text>
<rect x="1195" y="403" width="95" height="22" rx="3.5" fill="#6c9b97"/>
<text class="lbl" x="1199" y="418">Natural Factors</text>
<text class="ax" x="47.5" y="175">Hotter</text>
<text class="ax" x="68" y="203" text-anchor="end">+1.1°C</text>
<text class="ax" x="42" y="436" text-anchor="middle" letter-spacing="0.25">1880-1910</text>
<text class="ax" x="44" y="455" text-anchor="middle">Average</text>
<text class="ax" x="1270.5" y="641.5" letter-spacing="0.25">95% Confidence</text>
<text x="609.5" y="638" font-size="36.5" fill="#6e6e6e" stroke="#fff" stroke-width="0.45" letter-spacing="0.8">1880-2005</text>
<circle cx="1414" cy="186" r="5" fill="#bdbdbd"/><circle cx="1414" cy="206" r="5" fill="#bdbdbd"/><circle cx="1414" cy="226" r="5" fill="#bdbdbd"/><circle cx="1414" cy="246" r="5" fill="#bdbdbd"/><circle cx="1414" cy="266" r="8" fill="#3b3b3b"/><circle cx="1414" cy="286" r="5" fill="#bdbdbd"/><circle cx="1414" cy="306" r="5" fill="#bdbdbd"/><circle cx="1414" cy="326" r="5" fill="#bdbdbd"/><circle cx="1414" cy="346" r="5" fill="#bdbdbd"/><circle cx="1414" cy="366" r="5" fill="#bdbdbd"/><circle cx="1414" cy="386" r="5" fill="#bdbdbd"/>
</svg>
</div>
<div id="head">
<h1>Is it All Three of These Things Combined?</h1>
<p class="sub">If it were, then the response to natural factors should match the observed<br>temperature. Adding the natural factors together just doesn’t add up.</p>
</div>
</body>
</html>
